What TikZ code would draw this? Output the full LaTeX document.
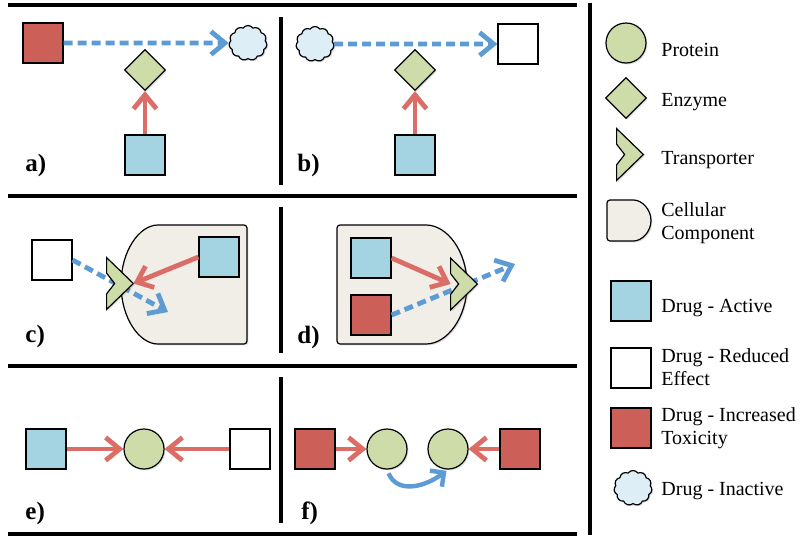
\documentclass[tikz,border=0pt]{standalone}
\usepackage{fontspec}
\setmainfont{Liberation Serif}
\usetikzlibrary{calc,arrows.meta,shapes.geometric,shapes.symbols,shadows}

\definecolor{toxred}{RGB}{204,96,88}
\definecolor{actblue}{RGB}{164,212,226}
\definecolor{protgreen}{RGB}{206,220,170}
\definecolor{cellgrey}{RGB}{241,238,232}
\definecolor{cloudblue}{RGB}{222,238,247}
\definecolor{arrred}{RGB}{219,108,102}
\definecolor{arrblue}{RGB}{92,155,211}

% transporter glyph drawn inside its (invisible) node box
\newcommand{\drawtransp}[1]{%
  \filldraw[transp] (#1.north west) -- (#1.east) -- (#1.south west)
    -- ($(#1.south west)!0.3!(#1.north west)$) -- ($(#1.west)!0.3!(#1.east)$)
    -- ($(#1.north west)!0.3!(#1.south west)$) -- cycle;}

\begin{document}
\begin{tikzpicture}[x=0.5pt,y=-0.5pt,
    shade/.style={drop shadow={shadow xshift=0.7pt,shadow yshift=-0.7pt,opacity=0.25}},
    drug/.style={draw,line width=0.6pt,minimum size=20pt,inner sep=0pt,shade},
    active/.style={drug,fill=actblue},
    reduced/.style={drug,fill=white},
    toxic/.style={drug,fill=toxred},
    protein/.style={circle,draw,line width=0.6pt,fill=protgreen,minimum size=20pt,inner sep=0pt,shade},
    enzyme/.style={diamond,draw,line width=0.6pt,fill=protgreen,minimum size=20.5pt,inner sep=0pt,shade},
    inactive/.style={cloud,cloud puffs=11,cloud puff arc=110,draw,line width=0.6pt,fill=cloudblue,minimum width=19pt,minimum height=17.5pt,inner sep=0pt,shade},
    transpbox/.style={minimum width=13pt,minimum height=25.5pt,inner sep=0pt},
    transp/.style={draw,line width=0.6pt,fill=protgreen,line join=miter,shade},
    cellpart/.style={draw,line width=0.6pt,fill=cellgrey,rounded corners=1.5pt,shade},
    redarr/.style={draw=arrred,line width=2.4pt,-{Straight Barb[length=7pt,width=11.5pt]}},
    bluearr/.style={draw=arrblue,line width=2.4pt,dash pattern=on 4.5pt off 2.5pt,-{Straight Barb[length=7pt,width=11.5pt]}},
    bluecurve/.style={draw=arrblue,line width=2.2pt,-{Straight Barb[length=5pt,width=10pt]}},
    sep/.style={line width=2pt},
    lbl/.style={font=\fontsize{12.5}{14}\selectfont\bfseries,anchor=base west,inner sep=0pt},
    key/.style={anchor=base west,inner sep=0pt,align=left,font=\fontsize{10}{11.25}\selectfont}]
  \useasboundingbox (0,0) rectangle (800,547);

  % frame
  \draw[sep] (8,5) -- (577,5);
  \draw[sep] (8,196) -- (577,196);
  \draw[sep] (8,366) -- (577,366);
  \draw[sep] (8,534) -- (577,534);
  \draw[sep] (281,17) -- (281,185);
  \draw[sep] (281,207) -- (281,353);
  \draw[sep] (281,377) -- (281,523);
  \draw[sep] (590,3) -- (590,535);

  % a)
  \node[toxic] (a-tox) at (43,43) {};
  \node[inactive] (a-in) at (248,43) {};
  \node[enzyme] (a-enz) at (145,70) {};
  \node[active] (a-act) at (145,155) {};
  \draw[bluearr] (a-tox) -- (a-in);
  \draw[redarr] (a-act) -- (a-enz);
  \node[lbl] (a-lbl) at (25,171) {a)};

  % b)
  \node[inactive] (b-in) at (315,44) {};
  \node[reduced] (b-red) at (518,44) {};
  \node[enzyme] (b-enz) at (415,70) {};
  \node[active] (b-act) at (415,155) {};
  \draw[bluearr] (b-in) -- (b-red);
  \draw[redarr] (b-act) -- (b-enz);
  \node[lbl] (b-lbl) at (297,171) {b)};

  % c)
  \draw[cellpart] (247,225) -- (161,225)
    arc[start angle=90,end angle=270,x radius=20pt,y radius=29.75pt] -- (247,344) -- cycle;
  \node[reduced] (c-red) at (52,260) {};
  \node[active] (c-act) at (219,257) {};
  \node[transpbox] (c-tr) at (120,283.5) {};
  \coordinate (c-in) at (168,312);
  \draw[bluearr] (c-red.east) -- (c-in);
  \drawtransp{c-tr}
  \draw[redarr] (c-act.west) -- (c-tr.east);
  \node[lbl] (c-lbl) at (25,342) {c)};

  % d)
  \draw[cellpart] (337,225) -- (423,225)
    arc[start angle=90,end angle=-90,x radius=22pt,y radius=29.75pt] -- (337,344) -- cycle;
  \node[active] (d-act) at (371,258) {};
  \node[toxic] (d-tox) at (371,315) {};
  \node[transpbox] (d-tr) at (464,284) {};
  \coordinate (d-out) at (515,264);
  \draw[redarr] (d-act.east) -- (d-tr.west);
  \draw[bluearr] (d-tox.east) -- (d-out);
  \drawtransp{d-tr}
  \node[lbl] (d-lbl) at (297,343) {d)};

  % e)
  \node[active] (e-act) at (46,449) {};
  \node[protein] (e-prot) at (144,449) {};
  \node[reduced] (e-red) at (250,449) {};
  \draw[redarr] (e-act) -- (e-prot);
  \draw[redarr] (e-red) -- (e-prot);
  \node[lbl] (e-lbl) at (25,519) {e)};

  % f)
  \node[toxic] (f-tox1) at (315,449) {};
  \node[protein] (f-p1) at (387,449) {};
  \node[protein] (f-p2) at (448,449) {};
  \node[toxic] (f-tox2) at (520,449) {};
  \draw[redarr] (f-tox1) -- (f-p1);
  \draw[redarr] (f-tox2) -- (f-p2);
  \draw[bluecurve,shorten <=2pt,shorten >=1pt] (f-p1.south) .. controls +(10,24) and +(-24,18) .. (f-p2.south);
  \node[lbl] (f-lbl) at (301,519) {f)};

  % key
  \node[protein] (k-prot) at (626,43) {};
  \node[key] (k-prot-t) at (661,56) {Protein};
  \node[enzyme] (k-enz) at (626,98) {};
  \node[key] (k-enz-t) at (661,106) {Enzyme};
  \node[transpbox] (k-tr) at (630,154.5) {};
  \drawtransp{k-tr}
  \node[key] (k-tr-t) at (661,164) {Transporter};
  \draw[cellpart] (607,200) -- (630.5,200)
    arc[start angle=90,end angle=-90,radius=10.25pt] -- (607,241) -- cycle;
  \node[key] (k-cell-t) at (661,239) {Cellular\\Component};
  \node[active] (k-act) at (631,301) {};
  \node[key] (k-act-t) at (661,312) {Drug - Active};
  \node[reduced] (k-red) at (631,368) {};
  \node[key] (k-red-t) at (661,385) {Drug - Reduced\\Effect};
  \node[toxic] (k-tox) at (631,428) {};
  \node[key] (k-tox-t) at (661,444) {Drug - Increased\\Toxicity};
  \node[inactive] (k-in) at (633,488) {};
  \node[key] (k-in-t) at (661,495) {Drug - Inactive};
\end{tikzpicture}
\end{document}
